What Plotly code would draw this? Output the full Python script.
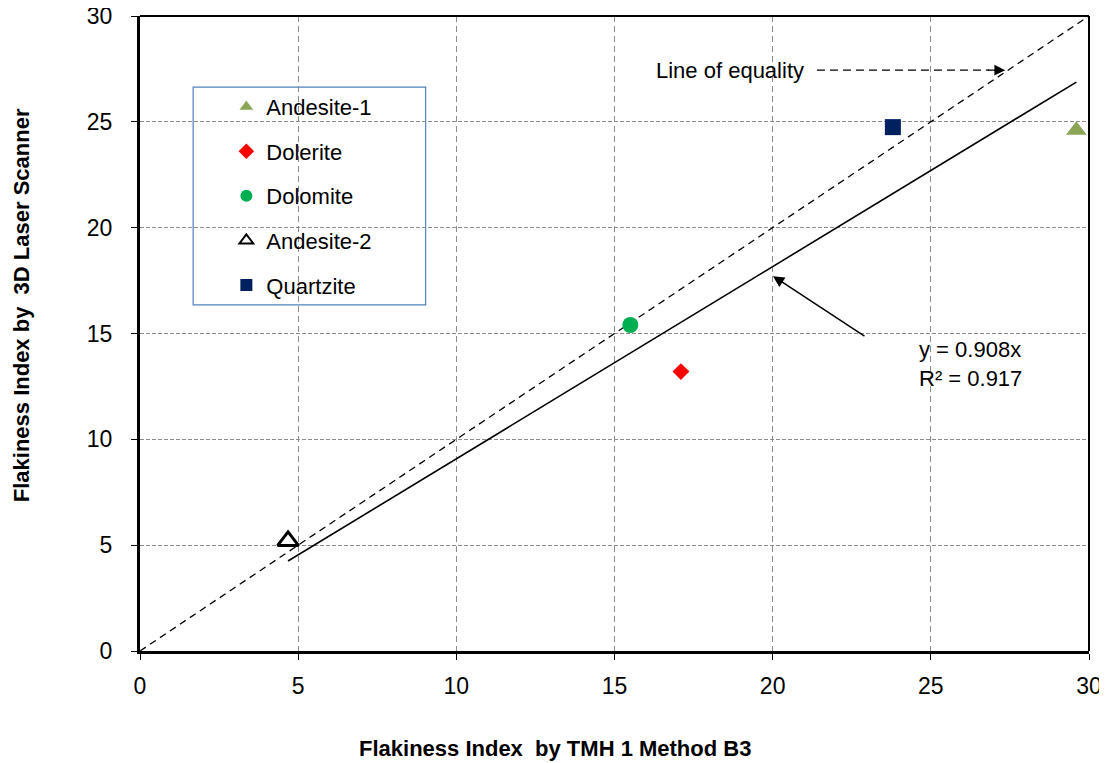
import plotly.graph_objects as go

# ---- data ----
series_names = ["Andesite-1", "Dolerite", "Dolomite", "Andesite-2", "Quartzite"]
tmh_values = [29.6, 17.1, 15.5, 4.68, 23.8]        # x: Flakiness Index by TMH 1 Method B3
scanner_values = [24.6, 13.2, 15.4, 5.2, 24.75]    # y: Flakiness Index by 3D Laser Scanner
fit_slope = 0.908
fit_r2 = 0.917
x_ticks = [0, 5, 10, 15, 20, 25, 30]
y_ticks = [0, 5, 10, 15, 20, 25, 30]
x_title = "Flakiness Index  by TMH 1 Method B3"
y_title = "Flakiness Index by  3D Laser Scanner"

# ---- styles ----
styles = {
    "Andesite-1": dict(symbol="triangle-up", color="#8BA556", size=18, line=dict(width=0)),
    "Dolerite": dict(symbol="diamond", color="#FF0000", size=13, line=dict(width=0)),
    "Dolomite": dict(symbol="circle", color="#00B050", size=16, line=dict(width=0)),
    "Andesite-2": dict(symbol="triangle-up-open", color="#000000", size=18, line=dict(width=3, color="#000000")),
    "Quartzite": dict(symbol="square", color="#002060", size=16, line=dict(width=0)),
}

FONT = "Liberation Sans, Arial, sans-serif"

fig = go.Figure()

# line of equality
fig.add_trace(go.Scatter(x=[0, 30], y=[0, 30], mode="lines",
                         line=dict(color="black", width=1.3, dash="7px,5px"),
                         showlegend=False, hoverinfo="skip"))
# regression line y = 0.908x over data range
fx = [min(tmh_values), max(tmh_values)]
fig.add_trace(go.Scatter(x=fx, y=[fit_slope * v for v in fx], mode="lines",
                         line=dict(color="black", width=1.6),
                         showlegend=False, hoverinfo="skip"))

for i, name in enumerate(series_names):
    s = styles[name]
    fig.add_trace(go.Scatter(
        x=[tmh_values[i]], y=[scanner_values[i]], mode="markers", name=name,
        legendgroup=name,
        marker=dict(symbol=s["symbol"], color=s["color"], size=s["size"], line=s["line"]),
    ))

# legend box (drawn as shape so its size matches)
fig.add_shape(type="rect", xref="paper", yref="paper",
              x0=0.056, x1=0.301, y0=0.545, y1=0.888,
              line=dict(color="#4F81BD", width=1.2), fillcolor="white", layer="below")

# top and right frame lines
fig.add_shape(type="line", xref="paper", yref="paper", x0=0, x1=1, y0=1, y1=1,
              line=dict(color="black", width=2))
fig.add_shape(type="line", xref="paper", yref="paper", x0=1, x1=1, y0=0, y1=1,
              line=dict(color="black", width=2))

# "Line of equality" annotation with dashed arrow
loe_text_x, loe_y = 21.05, 27.44
loe_tip_x = 27.35
fig.add_shape(type="line", x0=21.4, x1=loe_tip_x - 0.5, y0=loe_y, y1=loe_y,
              line=dict(color="black", width=1.2, dash="8px,5px"))
fig.add_annotation(x=loe_tip_x, y=loe_y, ax=loe_tip_x - 0.6, ay=loe_y, axref="x", ayref="y",
                   xref="x", yref="y", text="", showarrow=True,
                   arrowhead=2, arrowsize=1.8, arrowwidth=1.2, arrowcolor="black")
fig.add_annotation(x=loe_text_x, y=loe_y, xref="x", yref="y", text="Line of equality",
                   showarrow=False, xanchor="right", yanchor="middle",
                   font=dict(family=FONT, size=22, color="black"))

# equation annotation with arrow pointing to fit line
fig.add_annotation(x=20.01, y=17.71, ax=22.95, ay=14.83, axref="x", ayref="y",
                   xref="x", yref="y", text="", showarrow=True,
                   arrowhead=2, arrowsize=1.5, arrowwidth=1.5, arrowcolor="black")
fig.add_annotation(x=24.56, y=13.56, xref="x", yref="y",
                   text=f"y = {fit_slope}x<br>R² = {fit_r2}",
                   showarrow=False, xanchor="left", yanchor="middle", align="left",
                   font=dict(family=FONT, size=22, color="black"))

# axis titles
fig.add_annotation(x=0.437, y=-0.154, xref="paper", yref="paper", text=f"<b>{x_title}</b>",
                   showarrow=False, xanchor="center", yanchor="middle",
                   font=dict(family=FONT, size=22, color="black"))
fig.add_annotation(x=-0.124, y=0.545, xref="paper", yref="paper", text=f"<b>{y_title}</b>",
                   showarrow=False, xanchor="center", yanchor="middle", textangle=-90,
                   font=dict(family=FONT, size=22, color="black"))

# page body has an 8px margin, so the figure is slightly smaller and margins offset
fig.update_layout(
    width=1099, height=755,
    margin=dict(l=132, r=18, t=8, b=112),
    plot_bgcolor="white", paper_bgcolor="white",
    font=dict(family=FONT, size=22, color="black"),
    showlegend=True,
    legend=dict(x=0.091, y=0.89, xanchor="left", yanchor="top",
                bgcolor="rgba(0,0,0,0)", borderwidth=0,
                font=dict(family=FONT, size=22, color="black"),
                tracegroupgap=13, itemsizing="constant"),
    xaxis=dict(range=[0, 30], tickvals=x_ticks, ticktext=[str(t) for t in x_ticks],
               showgrid=True, gridcolor="#8C8C8C", gridwidth=1, griddash="6px,4px",
               zeroline=False, showline=True, linecolor="black", linewidth=3,
               ticks="outside", ticklen=6, tickcolor="black", tickwidth=1,
               ticklabelstandoff=6, automargin=False, ticklabeloverflow="allow",
               tickfont=dict(family=FONT, size=23)),
    yaxis=dict(range=[0, 30], tickvals=y_ticks, ticktext=[str(t) for t in y_ticks],
               showgrid=True, gridcolor="#8C8C8C", gridwidth=1, griddash="4px,2px",
               zeroline=False, showline=True, linecolor="black", linewidth=3,
               ticks="outside", ticklen=6, tickcolor="black", tickwidth=1,
               ticklabelstandoff=14, automargin=False, ticklabeloverflow="allow",
               tickfont=dict(family=FONT, size=23)),
)

fig.write_html("out.html")
